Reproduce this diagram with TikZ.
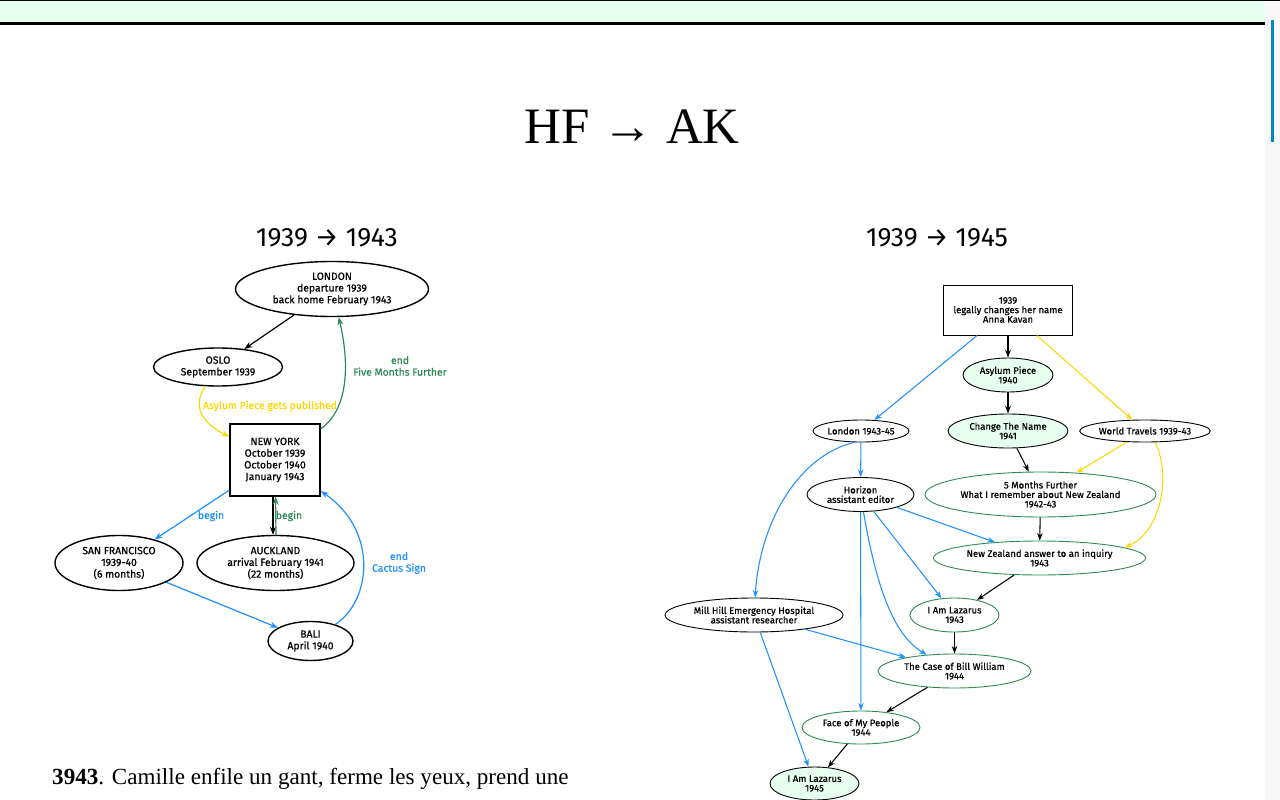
\documentclass[tikz,border=0pt]{standalone}
\usepackage{fontspec}
\setmainfont{Liberation Serif}
\newfontfamily\nodefont{Fira Sans}[FakeBold=0.6]
\newfontfamily\subfont{Fira Sans}
\usetikzlibrary{shapes.geometric,arrows.meta}
\definecolor{mint}{HTML}{E6FFEE}
\definecolor{gold}{HTML}{FFD700}
\definecolor{dblue}{HTML}{1E90FF}
\definecolor{sgreen}{HTML}{2E8B57}
\definecolor{scrollgrey}{HTML}{F8F8F8}
\definecolor{thumb}{HTML}{0088CC}
\begin{document}
\begin{tikzpicture}[x=1pt,y=-1pt,
  lfont/.style={font=\nodefont\fontsize{10.4}{11.7}\selectfont},
  rfont/.style={font=\nodefont\fontsize{9.5}{9.5}\selectfont},
  lell/.style={ellipse,draw,line width=1.4pt,inner sep=0pt,align=center,lfont},
  rell/.style={ellipse,draw,line width=0.9pt,inner sep=0pt,align=center,rfont},
  grn/.style={rell,draw=sgreen},
  fillmint/.style={rell,fill=mint},
  ledge/.style={-{Stealth[length=8pt,width=6pt]},line width=1.2pt},
  redge/.style={-{Stealth[length=7.5pt,width=5.5pt]},line width=1.05pt},
  lab/.style={lfont,align=center,inner sep=0pt}
]
\useasboundingbox (0,0) rectangle (1280,800);
\fill[white] (0,0) rectangle (1280,800);
% browser chrome
\fill[scrollgrey] (1265,0) rectangle (1280,800);
\fill[mint] (0,1) rectangle (1265,22);
\fill[black] (0,0) rectangle (1280,1);
\fill[black] (0,22) rectangle (1265,25);
\fill[thumb] (1271,20) rectangle (1274,142);

% titles
\node[font=\fontsize{51}{51}\selectfont,anchor=base] (title) at (632,143) {HF → AK};
\node[font=\subfont\fontsize{26.5}{26.5}\selectfont,anchor=base] (st1) at (327,246) {1939 → 1943};
\node[font=\subfont\fontsize{26.5}{26.5}\selectfont,anchor=base] (st2) at (937,246) {1939 → 1945};

% ---------- left graph ----------
\node[lell,minimum width=193pt,minimum height=55pt] (london) at (332,289) {LONDON\\departure 1939\\back home February 1943};
\node[lell,minimum width=129pt,minimum height=38pt] (oslo) at (218,367) {OSLO\\September 1939};
\node[draw,line width=1.4pt,minimum width=90pt,minimum height=72pt,inner sep=0pt,align=center,lfont] (ny) at (275,460) {NEW YORK\\October 1939\\October 1940\\January 1943};
\node[lell,minimum width=128pt,minimum height=55pt] (sf) at (119,563) {SAN FRANCISCO\\1939-40\\(6 months)};
\node[lell,minimum width=157pt,minimum height=55pt] (auck) at (275.5,563) {AUCKLAND\\arrival February 1941\\(22 months)};
\node[lell,minimum width=85pt,minimum height=39pt] (bali) at (310.5,641) {BALI\\April 1940};

\draw[ledge] (london) -- (oslo);
\draw[ledge,gold] (oslo) .. controls (188,412) and (212,428) .. (ny);
\node[lab,text=gold] (l1) at (270,406) {Asylum Piece gets published};
\draw[ledge,sgreen] (ny) .. controls (348,410) and (350,365) .. (london);
\node[lab,text=sgreen] (l2) at (400,366) {end\\Five Months Further};
\draw[ledge,dblue] (ny) -- (sf);
\node[lab,text=dblue] (l3) at (211,516) {begin};
\draw[ledge] ([xshift=-2pt]ny.south) -- ([xshift=-2.5pt]auck.north);
\draw[ledge,sgreen] ([xshift=0.5pt]auck.north) -- ([xshift=0.5pt]ny.south);
\node[lab,text=sgreen] (l4) at (289,516) {begin};
\draw[ledge,dblue] (sf) -- (bali);
\draw[ledge,dblue] (bali) .. controls (372,600) and (378,530) .. (ny);
\node[lab,text=dblue] (l5) at (399,563) {end\\Cactus Sign};

% ---------- right graph ----------
\node[draw,line width=0.9pt,minimum width=129pt,minimum height=50pt,inner sep=0pt,align=center,rfont] (box) at (1008,310) {1939\\legally changes her name\\Anna Kavan};
\node[fillmint,minimum width=90pt,minimum height=34pt] (asy) at (1008,375) {Asylum Piece\\1940};
\node[fillmint,minimum width=120pt,minimum height=34pt] (chg) at (1008,431) {Change The Name\\1941};
\node[rell,minimum width=96pt,minimum height=22pt] (lon) at (861,431) {London 1943-45};
\node[rell,minimum width=127pt,minimum height=22pt] (wt) at (1145,431) {World Travels 1939-43};
\node[grn,minimum width=231pt,minimum height=45pt] (fm) at (1040.5,494.5) {5 Months Further\\What I remember about New Zealand\\1942-43};
\node[rell,minimum width=107pt,minimum height=34pt] (hor) at (860.5,494.5) {Horizon\\assistant editor};
\node[grn,minimum width=212pt,minimum height=34pt] (nz) at (1039.5,558) {New Zealand answer to an inquiry\\1943};
\node[grn,minimum width=89pt,minimum height=34pt] (laz1) at (954.5,615) {I Am Lazarus\\1943};
\node[rell,minimum width=178pt,minimum height=34pt] (mill) at (754,615) {Mill Hill Emergency Hospital\\assistant researcher};
\node[grn,minimum width=153pt,minimum height=34pt] (case) at (954.5,671) {The Case of Bill William\\1944};
\node[grn,minimum width=118pt,minimum height=33pt] (face) at (861,727.5) {Face of My People\\1944};
\node[fillmint,minimum width=89pt,minimum height=33pt] (laz2) at (814.5,783.5) {I Am Lazarus\\1945};

\draw[redge] (box) -- (asy);
\draw[redge,dblue] (box) -- (lon);
\draw[redge,gold] (box) -- (wt);
\draw[redge] (asy) -- (chg);
\draw[redge] (chg) -- (fm);
\draw[redge,gold] (wt) -- (fm);
\draw[redge,gold] (wt.-48) .. controls (1172,478) and (1160,532) .. (nz.7);
\draw[redge] (fm) -- (nz);
\draw[redge,dblue] (lon) -- (hor);
\draw[redge,dblue] (lon.-120) .. controls (800,455) and (760,520) .. (mill);
\draw[redge,dblue] (hor) -- (nz);
\draw[redge,dblue] (hor) -- (laz1);
\draw[redge,dblue] (hor) .. controls (876,585) and (893,635) .. (case);
\draw[redge,dblue] (hor) -- (face);
\draw[redge] (nz) -- (laz1);
\draw[redge] (laz1) -- (case);
\draw[redge,dblue] (mill) -- (case);
\draw[redge,dblue] (mill) -- (laz2);
\draw[redge] (case) -- (face);
\draw[redge] (face) -- (laz2);

% bottom text
\node[anchor=base west,inner sep=0pt,font=\fontsize{23.1}{26}\selectfont] (para) at (52,784) {\textbf{3943}. Camille enfile un gant, ferme les yeux, prend une};
\end{tikzpicture}
\end{document}
